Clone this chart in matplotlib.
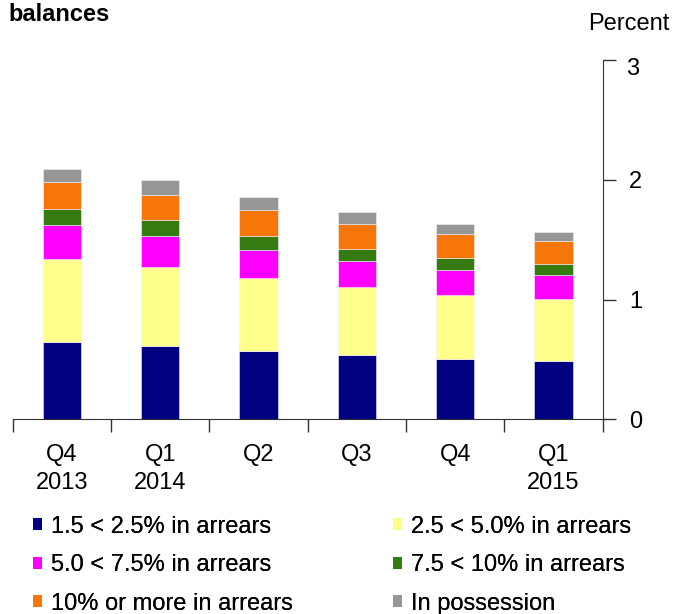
import matplotlib.pyplot as plt
import matplotlib.transforms as mtransforms
from matplotlib.patches import Patch
import numpy as np

plt.rcParams['font.family'] = ['Liberation Sans', 'DejaVu Sans']

# 분기 라벨
categories = ["Q4\n2013", "Q1\n2014", "Q2", "Q3", "Q4", "Q1\n2015"]
y_ticks = [0, 1, 2, 3]

# 구간별 값 (percent of balances)
arrears_15_25 = [0.645, 0.610, 0.568, 0.537, 0.504, 0.487]
arrears_25_50 = [0.697, 0.665, 0.610, 0.568, 0.537, 0.521]
arrears_50_75 = [0.278, 0.259, 0.239, 0.215, 0.204, 0.195]
arrears_75_10 = [0.137, 0.128, 0.117, 0.105, 0.105, 0.094]
arrears_10_up = [0.228, 0.214, 0.215, 0.207, 0.196, 0.193]
in_possession = [0.105, 0.121, 0.106, 0.098, 0.084, 0.077]

series = [
    ("1.5 < 2.5% in arrears", arrears_15_25, "#000080"),
    ("2.5 < 5.0% in arrears", arrears_25_50, "#FFFF8C"),
    ("5.0 < 7.5% in arrears", arrears_50_75, "#FF00FF"),
    ("7.5 < 10% in arrears", arrears_75_10, "#367A12"),
    ("10% or more in arrears", arrears_10_up, "#F7760A"),
    ("In possession", in_possession, "#969696"),
]

FS = 17

fig = plt.figure(figsize=(6.74, 6.14), dpi=100)
ax = fig.add_axes([0.0188, 0.317, 0.8754, 0.585])

x = np.arange(len(categories))
bottom = np.zeros(len(categories))
for label, vals, color in series:
    ax.bar(x, vals, width=0.39, bottom=bottom, color=color, label=label,
           edgecolor="#f0f0ff", linewidth=0.4)
    bottom += np.array(vals)

ax.set_xlim(-0.5, len(categories) - 0.5)
ax.set_ylim(0, 3)

for s in ["top", "left"]:
    ax.spines[s].set_visible(False)
ax.spines["bottom"].set_color("#333333")
ax.spines["right"].set_color("#333333")

# y축 오른쪽 (맨 위 3은 조금 아래로)
ax.yaxis.tick_right()
ax.set_yticks(y_ticks)
ax.set_yticklabels([str(v) for v in y_ticks[:-1]] + [""])
ax.tick_params(axis="y", direction="out", length=9, width=1, colors="#333333",
               labelcolor="black", labelsize=FS, pad=10)
off = mtransforms.offset_copy(ax.get_yaxis_transform(), fig=fig, x=23, y=-9, units="dots")
ax.text(1.0, y_ticks[-1], str(y_ticks[-1]), transform=off, fontsize=FS,
        ha="left", va="center")

# x축: 경계 눈금 + 가운데 라벨
ax.set_xticks(np.arange(-0.5, len(categories), 1.0))
ax.set_xticklabels([])
ax.tick_params(axis="x", which="major", direction="out", length=9, width=1, colors="#333333")
ax.set_xticks(x, minor=True)
ax.set_xticklabels(categories, minor=True, fontsize=FS, linespacing=1.35)
ax.tick_params(axis="x", which="minor", length=0, pad=18, labelcolor="black")

fig.text(0.012, 0.977, "balances", fontsize=FS, fontweight="bold", va="center", ha="left")
fig.text(0.994, 0.961, "Percent", fontsize=FS, va="center", ha="right")

# 범례: 두 열을 따로 배치
col_x = [0.049, 0.583]
for ci, idx in enumerate([[0, 2, 4], [1, 3, 5]]):
    handles = [Patch(facecolor=series[i][2], label=series[i][0]) for i in idx]
    leg = fig.legend(handles=handles, loc="upper left", bbox_to_anchor=(col_x[ci], 0.160),
                     ncol=1, frameon=False, fontsize=FS, handlelength=0.4, handleheight=0.4,
                     handletextpad=0.35, labelspacing=0.70, borderaxespad=0, borderpad=0)
    fig.add_artist(leg)

fig.savefig("out.png", dpi=100)
